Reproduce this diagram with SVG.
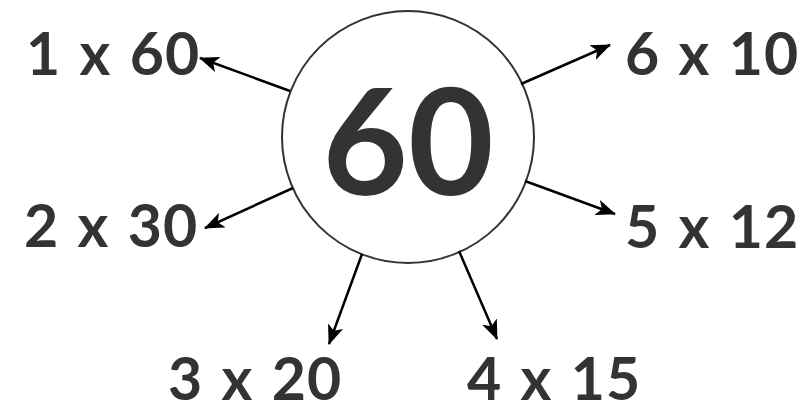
<svg xmlns="http://www.w3.org/2000/svg" width="805" height="410" viewBox="0 0 805 410">
  <style>
    .lbl { font-family: Lato, "Open Sans", "Liberation Sans", sans-serif; font-weight: bold; font-size: 59px; fill: #333333; letter-spacing: 1px; word-spacing: 3px; }
    .big { font-family: Lato, "Open Sans", "Liberation Sans", sans-serif; font-weight: bold; font-size: 148px; fill: #333333; }
    .edge { stroke: #000000; stroke-width: 2.5; fill: none; }
  </style>
  <defs>
    <marker id="arr" viewBox="0 0 20 16" refX="19" refY="8" markerWidth="20" markerHeight="16" markerUnits="userSpaceOnUse" orient="auto">
      <path d="M0,0 L20,8 L0,16 L5,8 Z" fill="#000000"/>
    </marker>
  </defs>
  <rect width="805" height="410" fill="#ffffff"/>
  <g id="center">
    <circle cx="408" cy="137" r="126" fill="#ffffff" stroke="#333333" stroke-width="2"/>
    <text class="big" x="408" y="195" text-anchor="middle">60</text>
  </g>
  <g id="n1"><text class="lbl" x="26" y="75">1 x 60</text></g>
  <g id="n6"><text class="lbl" x="625" y="75">6 x 10</text></g>
  <g id="n2"><text class="lbl" x="24" y="247">2 x 30</text></g>
  <g id="n5"><text class="lbl" x="625" y="248">5 x 12</text></g>
  <g id="n3"><text class="lbl" x="168" y="400">3 x 20</text></g>
  <g id="n4"><text class="lbl" x="467" y="400">4 x 15</text></g>
  <g id="connectors">
    <line class="edge" x1="290" y1="91" x2="200" y2="58" marker-end="url(#arr)"/>
    <line class="edge" x1="521" y1="84" x2="610" y2="45" marker-end="url(#arr)"/>
    <line class="edge" x1="293" y1="188" x2="205" y2="228" marker-end="url(#arr)"/>
    <line class="edge" x1="525" y1="181" x2="615" y2="214" marker-end="url(#arr)"/>
    <line class="edge" x1="362" y1="254" x2="329" y2="344" marker-end="url(#arr)"/>
    <line class="edge" x1="459" y1="251" x2="497" y2="339" marker-end="url(#arr)"/>
  </g>
</svg>
